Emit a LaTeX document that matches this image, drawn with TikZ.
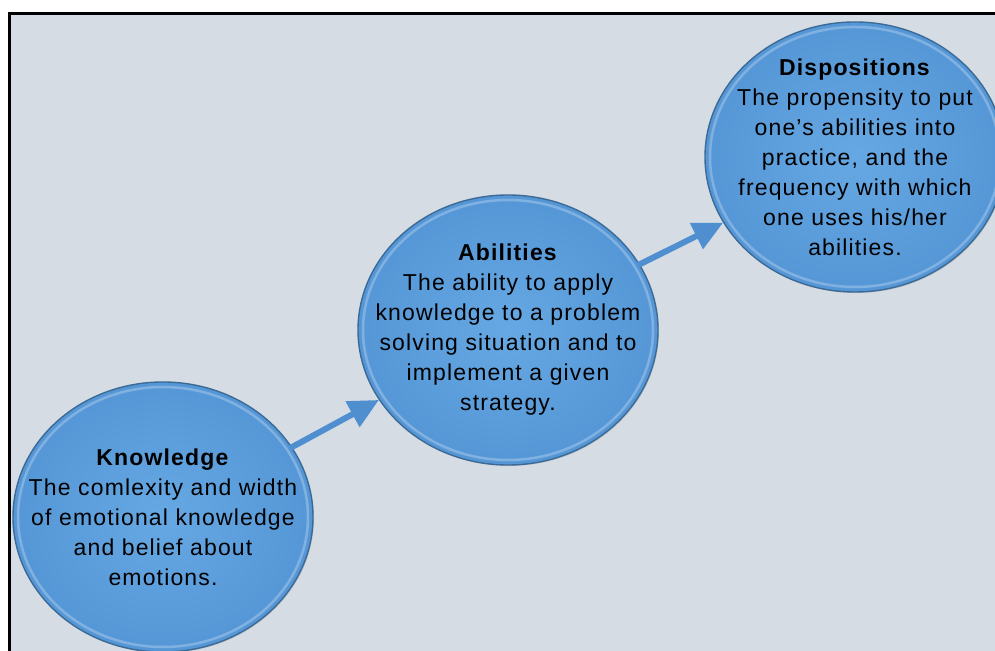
\documentclass[tikz,border=0pt]{standalone}
\usepackage{fontspec}
\setmainfont{Liberation Sans}
\usepackage{tikz}
\usetikzlibrary{arrows.meta,shapes.geometric,shadows,positioning}
\definecolor{panelgrey}{HTML}{D5DCE4}
\definecolor{bubblein}{HTML}{66A8E3}
\definecolor{bubbleout}{HTML}{5597D6}
\definecolor{bubblerim}{HTML}{3C6A96}
\definecolor{arrowblue}{HTML}{4F8FCF}

\begin{document}
\begin{tikzpicture}[x=1pt,y=1pt]
    \tikzset{
        bubble/.style={
            ellipse,
            minimum width=300pt,
            minimum height=270pt,
            inner sep=0pt,
            draw=bubblerim,
            line width=1.4pt,
            shading=radial,
            inner color=bubblein,
            outer color=bubbleout,
            drop shadow={opacity=0.3, shadow xshift=1pt, shadow yshift=-1pt}
        },
        bubble ring/.style={
            draw=white, draw opacity=0.25, line width=2.5pt
        },
        bubble text/.style={
            align=center,
            text=black,
            font=\fontsize{23}{30}\selectfont\addfontfeatures{LetterSpace=5}
        },
        link arrow/.style={
            -{Triangle[length=30pt,width=28pt]},
            line width=6pt,
            arrowblue,
            shorten <=-2pt
        },
    }
    \clip (0,0) rectangle (995,650);

    % panel
    \draw[fill=panelgrey, line width=3pt] (9.5,-20) rectangle (1020,636.5);

    \node[bubble] (know) at (163,133) {};
    \node[bubble] (abil) at (508,320) {};
    \node[bubble] (disp) at (855,493) {};

    % lighter inner lip
    \foreach \b in {know,abil,disp}
        \draw[bubble ring] (\b.center) ellipse [x radius=145pt, y radius=130pt];

    \draw[link arrow] (know) -- (abil);
    \draw[link arrow] (abil) -- (disp);

    \node[bubble text] (knowtext) at (know) {\textbf{Knowledge}\\The comlexity and width\\of emotional knowledge\\and belief about\\emotions.};
    \node[bubble text] (abiltext) at (abil) {\textbf{Abilities}\\The ability to apply\\knowledge to a problem\\solving situation and to\\implement a given\\strategy.};
    \node[bubble text] (disptext) at (disp) {\textbf{Dispositions}\\The propensity to put\\one’s abilities into\\practice, and the\\frequency with which\\one uses his/her\\abilities.};

\end{tikzpicture}
\end{document}
